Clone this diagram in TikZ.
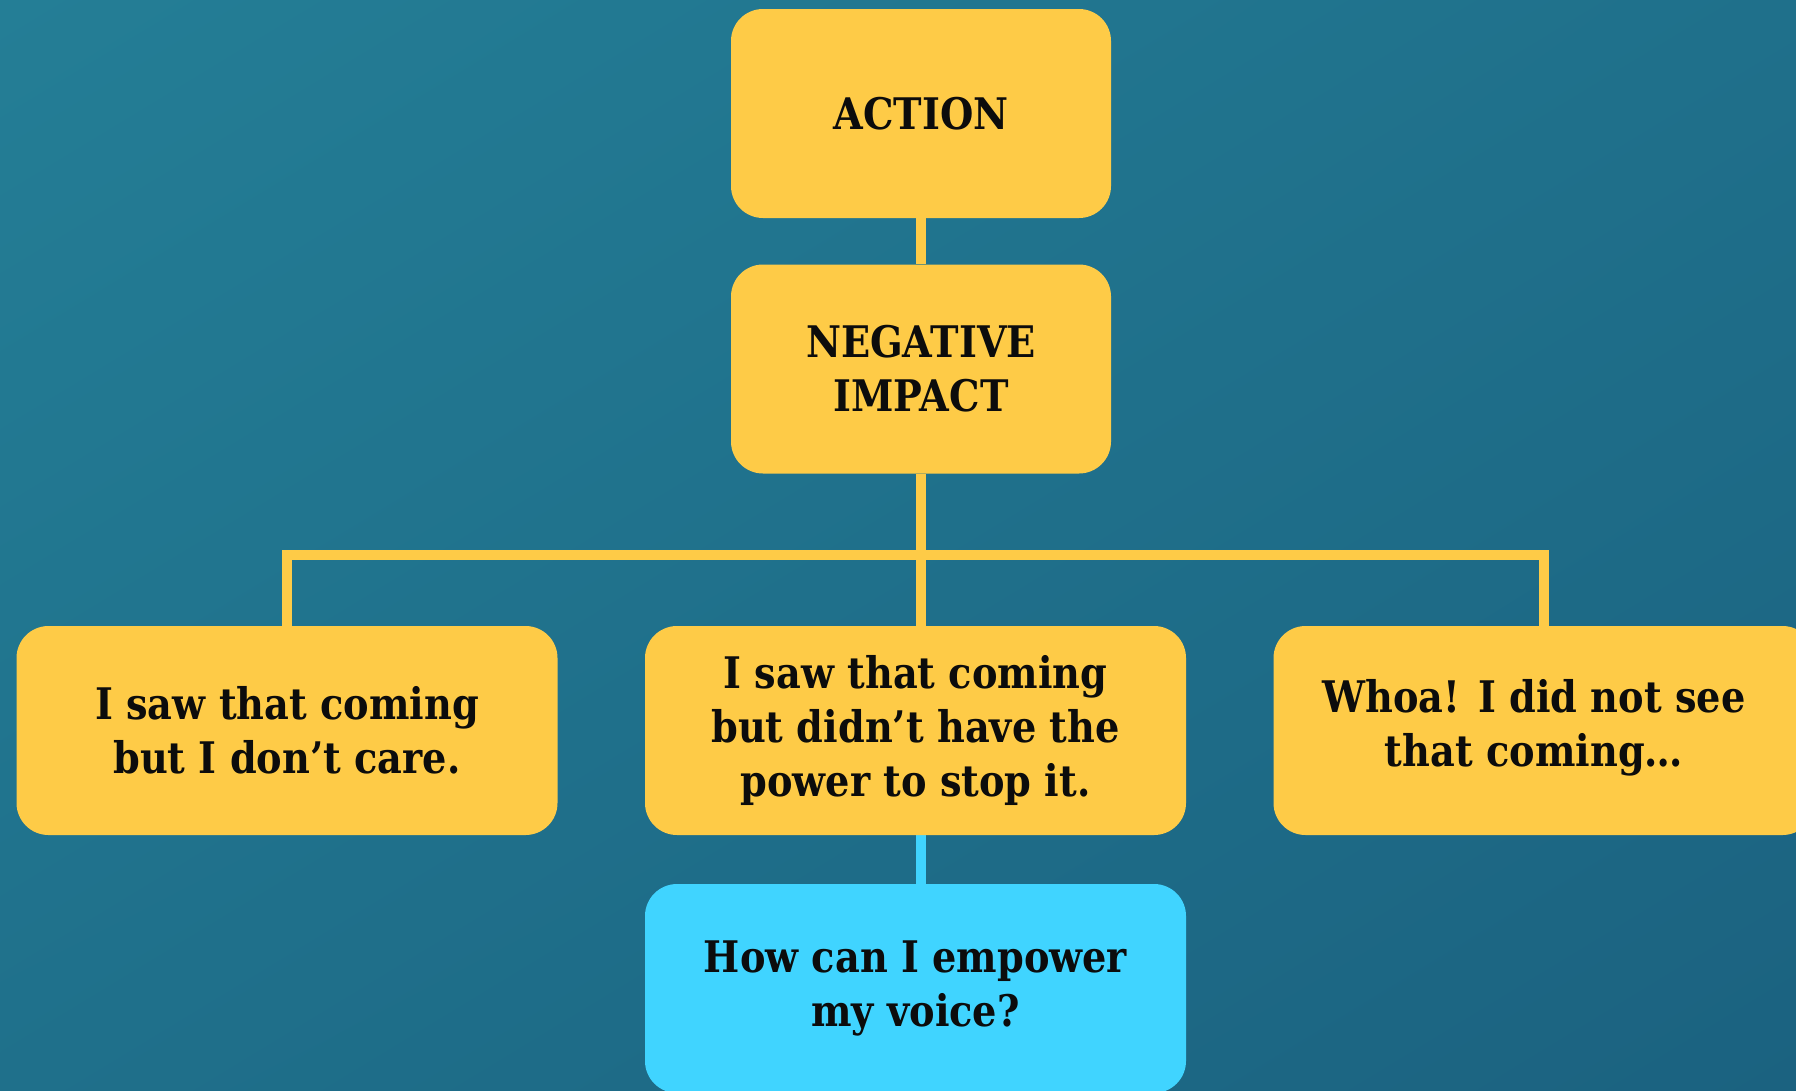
\documentclass[tikz,border=0pt]{standalone}
\usepackage{fontspec}
\usetikzlibrary{shadings}
\setmainfont{DejaVu Serif}[FakeStretch=0.88]
\definecolor{boxyellow}{RGB}{254,203,71}
\definecolor{boxblue}{RGB}{64,212,255}
\definecolor{bgA}{RGB}{36,126,150}
\definecolor{bgM}{RGB}{31,112,139}
\definecolor{bgB}{RGB}{27,98,128}
\definecolor{txt}{RGB}{12,12,12}
\pgfdeclarelayer{bg}
\pgfdeclarelayer{lines}
\pgfsetlayers{bg,lines,main}
\begin{document}
\begin{tikzpicture}[x=1pt,y=-1pt,
  card/.style={rounded corners=32pt, fill=boxyellow, draw=none, inner sep=0pt,
    minimum width=541pt, minimum height=209pt, align=center, text=txt,
    font=\bfseries\fontsize{43.5}{54}\selectfont},
  topcard/.style={card, minimum width=380pt},
  bluecard/.style={card, fill=boxblue},
  label/.style={align=center, text=txt, inner sep=0pt, font=\bfseries\fontsize{43.5}{54}\selectfont},
  yline/.style={draw=boxyellow, line width=10pt},
  bline/.style={draw=boxblue, line width=10pt}]
\useasboundingbox (0,0) rectangle (1796,1090);
\clip (0,0) rectangle (1796,1090);
\begin{pgfonlayer}{bg}
\shade[upper left=bgA, upper right=bgM, lower left=bgM, lower right=bgB] (0,0) rectangle (1796,1090);
\end{pgfonlayer}

\node[topcard] (act) at (921,113.5) {ACTION};
\node[topcard] (neg) at (921,369) {NEGATIVE\\IMPACT};
\node[card] (left) at (287,730.5) {I saw that coming\\but I don’t care.};
\node[card] (mid) at (915.5,730.5) {I saw that coming\\but didn’t have the\\power to stop it.};
\node[card] (right) at (1544,730.5) {};
\node[label] (righttext) at (1534,728) {Whoa! I did not see\\that coming…};
\node[bluecard] (blue) at (915.5,988.5) {How can I empower\\my voice?};
\coordinate (hub) at (921,555);

\begin{pgfonlayer}{lines}
\draw[yline] (act.south) -- (neg.north);
\draw[yline] (neg.south) -- (neg.south |- mid.north);
\draw[yline, line join=miter] (left.north) |- (hub) -| (right.north);
\draw[bline] (mid.south -| act.south) -- (blue.north -| act.south);
\end{pgfonlayer}
\end{tikzpicture}
\end{document}
